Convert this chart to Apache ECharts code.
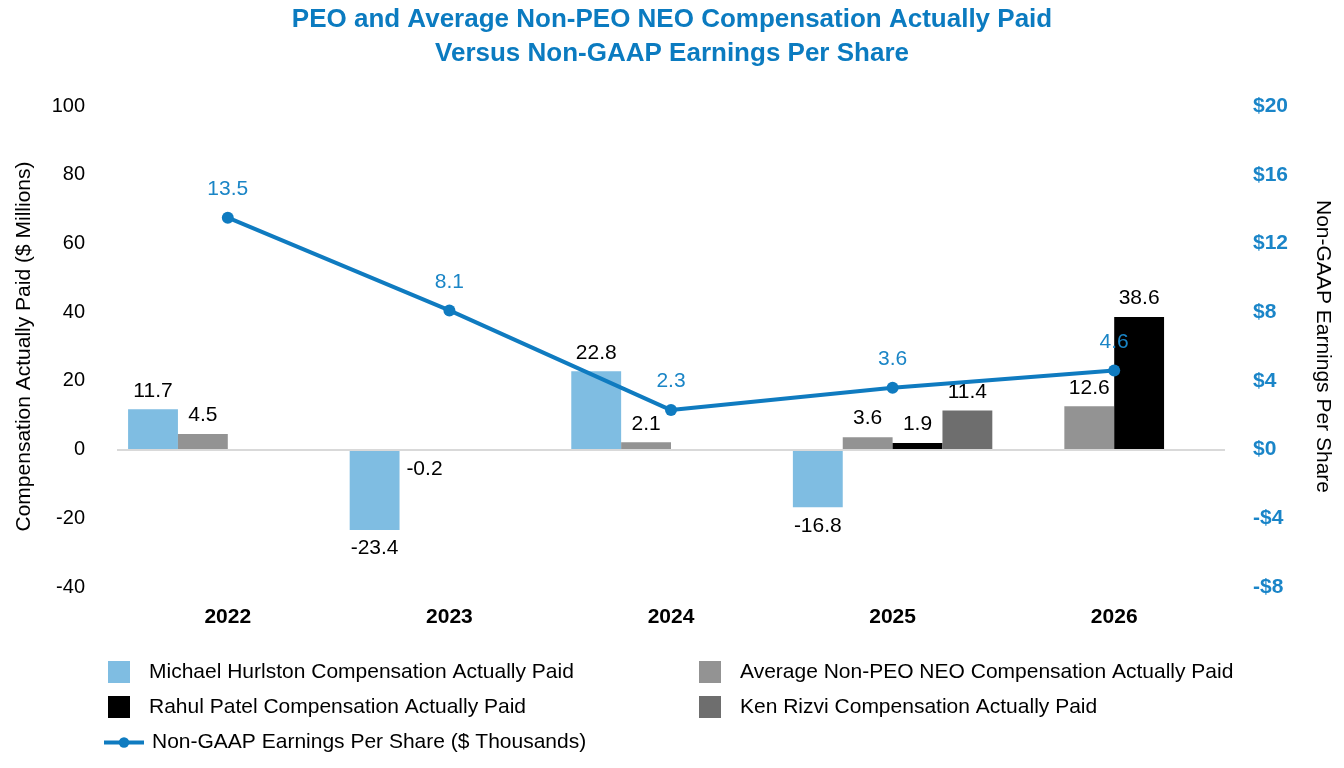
<!DOCTYPE html>
<html>
<head>
<meta charset="utf-8">
<script src="https://cdn.jsdelivr.net/npm/echarts@6/dist/echarts.min.js"></script>
<style>
  html, body { margin: 0; padding: 0; background: #fff; }
  #main { width: 1344px; height: 768px; }
</style>
</head>
<body>
<div id="main"></div>
<script>
var years = ['2022', '2023', '2024', '2025', '2026'];
var hurlston = [11.7, -23.4, 22.8, -16.8, null];
var avgNonPeo = [4.5, -0.2, 2.1, 3.6, 12.6];
var patel = [null, null, null, 1.9, 38.6];
var rizvi = [null, null, null, 11.4, null];
var eps = [13.5, 8.1, 2.3, 3.6, 4.6];

var FONT = '"Liberation Sans", Arial, Helvetica, sans-serif';
var BLUE = '#0f7bc0';

// negative bars get their label underneath
function barData(values) {
  return values.map(function (v) {
    if (v === null) return null;
    return { value: v, label: { position: v < 0 ? 'bottom' : 'top' } };
  });
}

function barSeries(name, values, color) {
  return {
    name: name,
    type: 'bar',
    data: barData(values),
    itemStyle: { color: color },
    barGap: 0,
    barCategoryGap: '10%',
    label: {
      show: true,
      color: '#000',
      fontSize: 21,
      fontFamily: FONT,
      distance: 8
    }
  };
}

var chart = echarts.init(document.getElementById('main'));

var series = [
  barSeries('Michael Hurlston Compensation Actually Paid', hurlston, '#7fbde2'),
  barSeries('Average Non-PEO NEO Compensation Actually Paid', avgNonPeo, '#939393'),
  barSeries('Rahul Patel Compensation Actually Paid', patel, '#000000'),
  barSeries('Ken Rizvi Compensation Actually Paid', rizvi, '#6e6e6e'),
  {
    name: 'Non-GAAP Earnings Per Share ($ Thousands)',
    type: 'line',
    yAxisIndex: 1,
    data: eps,
    symbol: 'circle',
    symbolSize: 12,
    lineStyle: { color: BLUE, width: 4 },
    itemStyle: { color: BLUE },
    z: 5,
    label: {
      show: true,
      position: 'top',
      distance: 12,
      color: '#1a85c6',
      fontSize: 21,
      fontFamily: FONT
    }
  }
];

// zero line
series[0].markLine = {
  silent: true,
  symbol: 'none',
  label: { show: false },
  lineStyle: { color: '#d9d9d9', width: 2, type: 'solid' },
  data: [{ yAxis: 0 }]
};

var legendText = { fontSize: 21, fontFamily: FONT, color: '#000' };

var option = {
  backgroundColor: '#fff',
  animation: false,
  title: {
    text: 'PEO and Average Non-PEO NEO Compensation Actually Paid\nVersus Non-GAAP Earnings Per Share',
    left: 'center',
    top: 3,
    padding: 0,
    textStyle: {
      color: '#0b7bc0',
      fontSize: 26,
      fontWeight: 'bold',
      fontFamily: FONT,
      lineHeight: 34
    }
  },
  grid: { left: 117, right: 119, top: 106, bottom: 181 },
  legend: [{
    orient: 'vertical',
    left: 108,
    top: 661,
    padding: 0,
    icon: 'rect',
    itemWidth: 22,
    itemHeight: 22,
    itemGap: 13,
    textStyle: Object.assign({ padding: [0, 0, 0, 14] }, legendText),
    data: ['Michael Hurlston Compensation Actually Paid', 'Rahul Patel Compensation Actually Paid']
  }, {
    orient: 'vertical',
    left: 699,
    top: 661,
    padding: 0,
    icon: 'rect',
    itemWidth: 22,
    itemHeight: 22,
    itemGap: 13,
    textStyle: Object.assign({ padding: [0, 0, 0, 14] }, legendText),
    data: ['Average Non-PEO NEO Compensation Actually Paid', 'Ken Rizvi Compensation Actually Paid']
  }, {
    orient: 'vertical',
    left: 102,
    top: 732,
    padding: 0,
    itemWidth: 40,
    itemHeight: 13,
    lineStyle: { width: 4 },
    textStyle: Object.assign({ padding: [0, 0, 0, 3] }, legendText),
    data: ['Non-GAAP Earnings Per Share ($ Thousands)']
  }],
  xAxis: {
    type: 'category',
    data: years,
    axisLine: { show: false, onZero: false },
    axisTick: { show: false },
    axisLabel: {
      margin: 20,
      color: '#000',
      fontSize: 21,
      fontWeight: 'bold',
      fontFamily: FONT
    }
  },
  yAxis: [{
    type: 'value',
    min: -40,
    max: 100,
    interval: 20,
    name: 'Compensation Actually Paid ($ Millions)',
    nameLocation: 'middle',
    nameGap: 82,
    nameTextStyle: { color: '#000', fontSize: 21, fontFamily: FONT },
    axisLine: { show: false },
    axisTick: { show: false },
    splitLine: { show: false },
    axisLabel: { margin: 32, color: '#000', fontSize: 20, fontFamily: FONT }
  }, {
    type: 'value',
    min: -8,
    max: 20,
    interval: 4,
    position: 'right',
    name: 'Non-GAAP Earnings Per Share',
    nameLocation: 'middle',
    nameRotate: -90,
    nameGap: 87,
    nameTextStyle: { color: '#000', fontSize: 21, fontFamily: FONT },
    axisLine: { show: false },
    axisTick: { show: false },
    splitLine: { show: false },
    axisLabel: {
      margin: 28,
      color: '#1a85c8',
      fontSize: 21,
      fontWeight: 'bold',
      fontFamily: FONT,
      formatter: function (v) {
        return v < 0 ? '-$' + Math.abs(v) : '$' + v;
      }
    }
  }],
  series: series
};

chart.setOption(option);
</script>
</body>
</html>
